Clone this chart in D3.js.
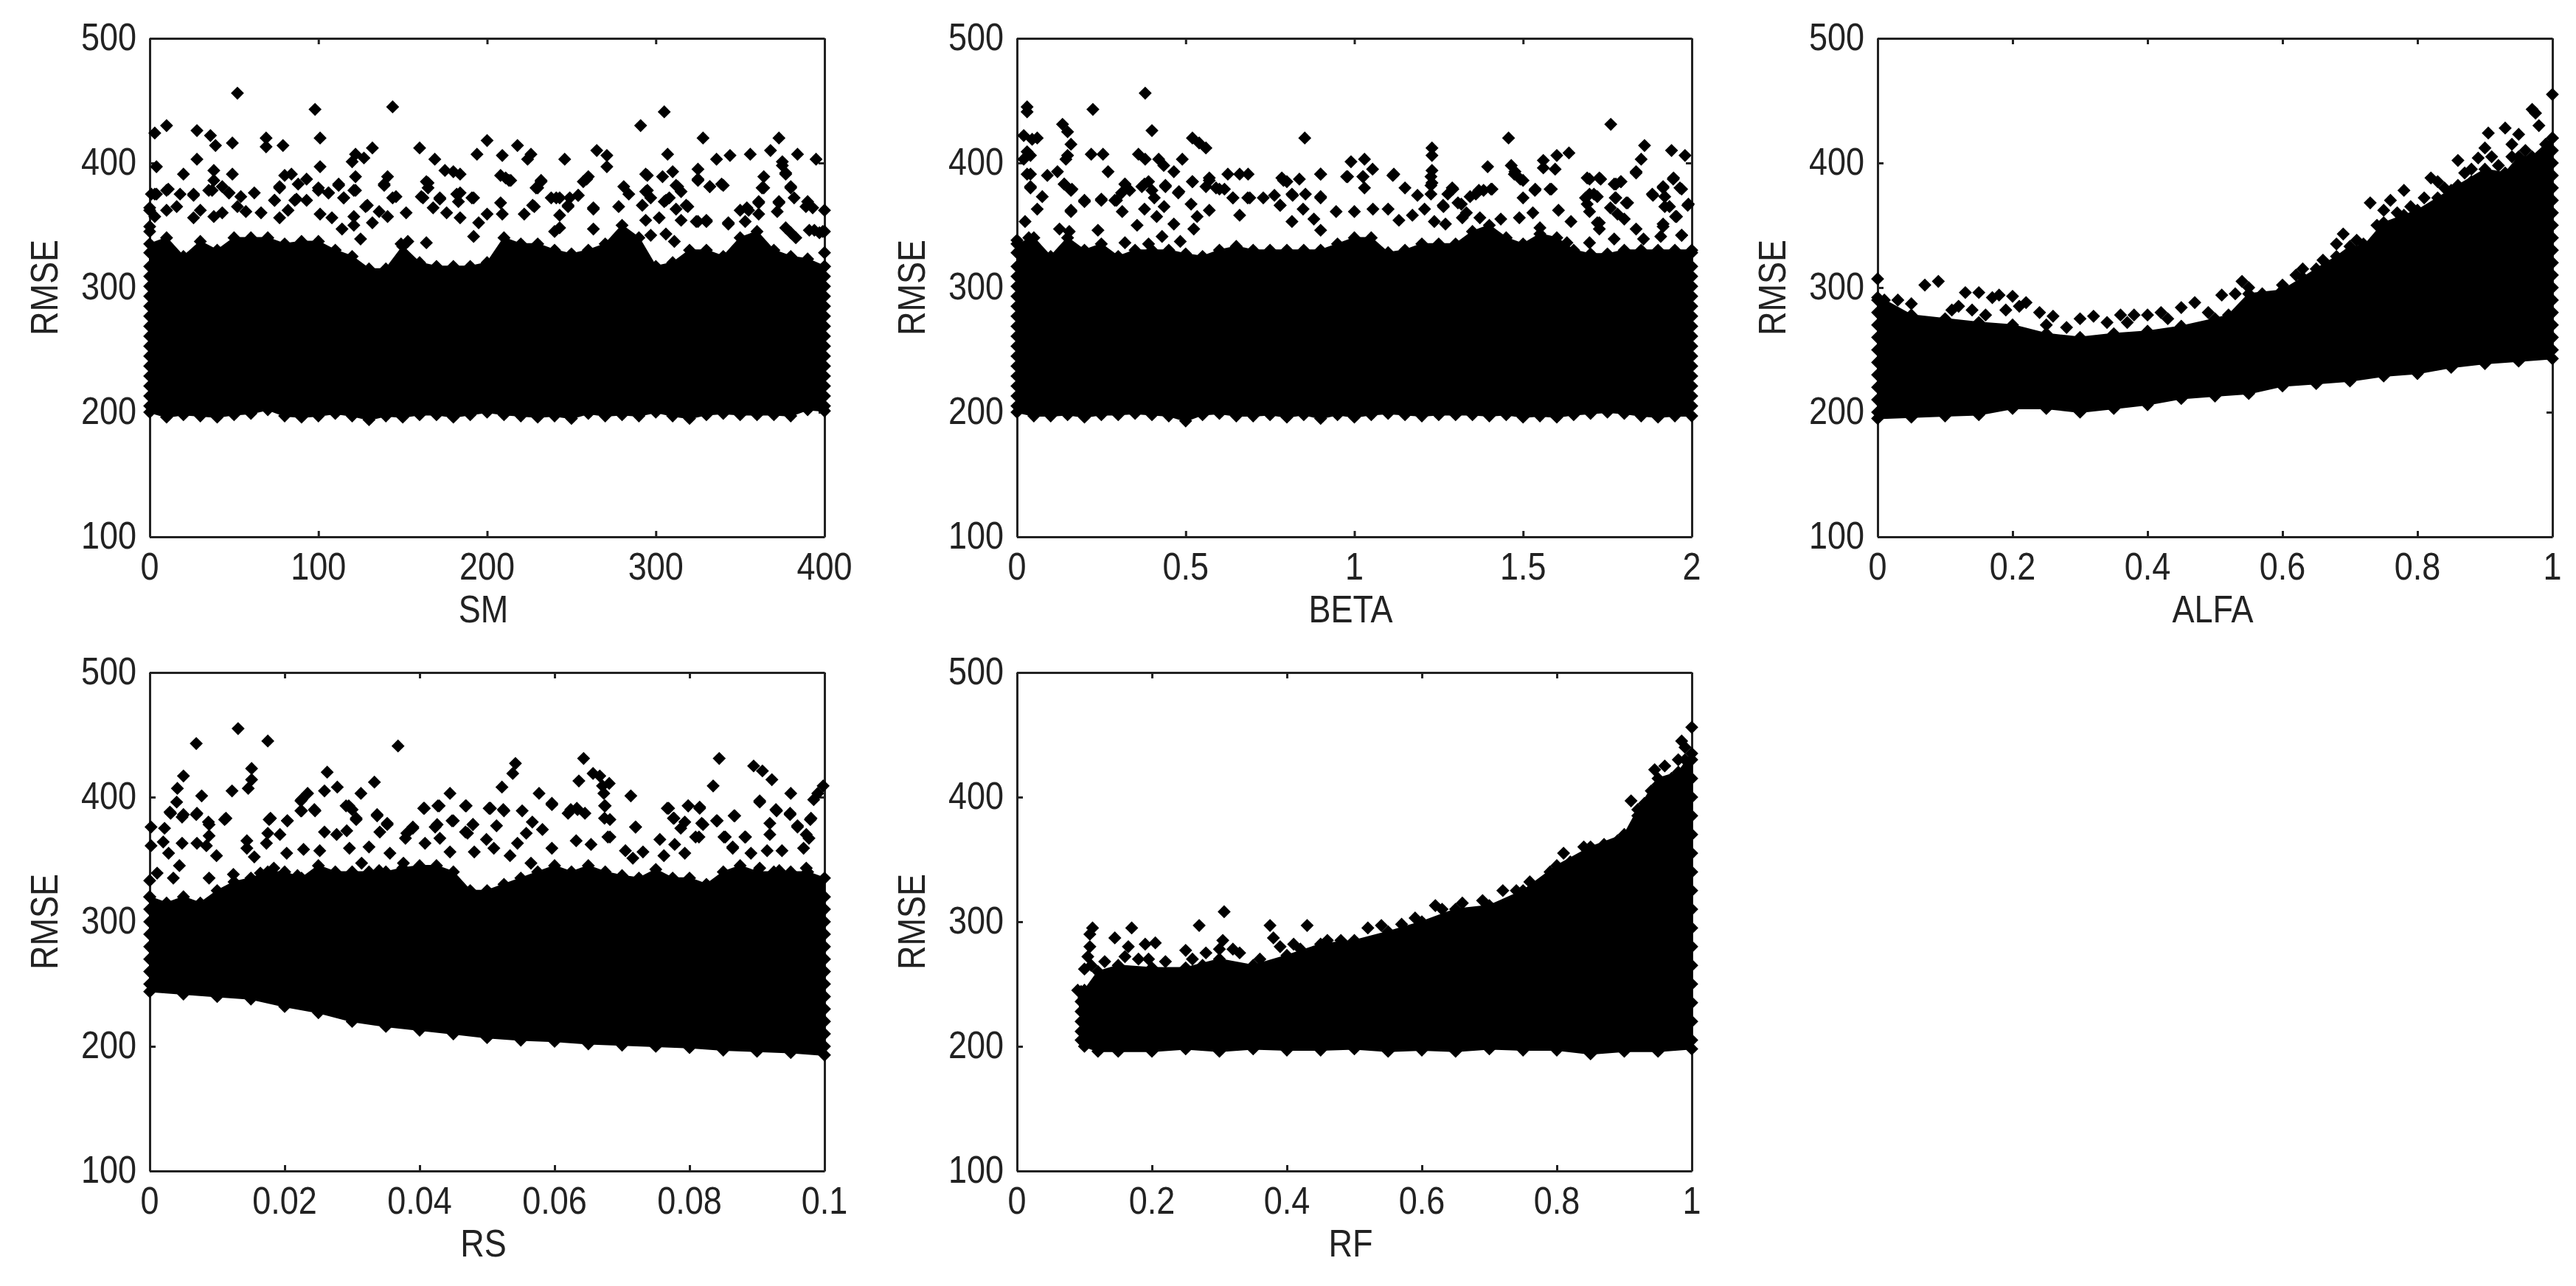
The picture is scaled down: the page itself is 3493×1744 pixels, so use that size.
<!DOCTYPE html>
<html><head><meta charset="utf-8">
<script src="https://cdn.jsdelivr.net/npm/d3@7"></script>
<style>html,body{margin:0;background:#fff}svg{display:block;filter:blur(0.7px)}text{font-family:"Liberation Sans",Arial,sans-serif;fill:#222}</style>
</head><body><script>
const rmseTicks=[100,200,300,400,500];
const smTicks=[0,100,200,300,400], betaTicks=[0,0.5,1,1.5,2], alfaTicks=[0,0.2,0.4,0.6,0.8,1], rsTicks=[0,0.02,0.04,0.06,0.08,0.1], rfTicks=[0,0.2,0.4,0.6,0.8,1];

const smPoints=[[52,456],[98,443],[144,445],[305,441],[291,430],[10,430],[3,424],[28,426],[36,422],[39,414],[49,416],[69,420],[69,413],[79,414],[101,420],[132,412],[122,407],[120,401],[127,404],[160,412],[169,403],[200,418],[194,407],[209,406],[218,414],[226,407],[224,403],[246,403],[265,410],[271,406],[271,397],[307,407],[328,420],[336,403],[344,406],[356,407],[368,410],[373,420],[384,407],[395,403],[375,401],[4,397],[28,403],[101,397],[325,395],[20,391],[38,394],[38,386],[49,391],[43,381],[47,376],[35,378],[1,375],[4,375],[10,378],[26,374],[62,376],[84,391],[80,390],[93,387],[77,380],[74,370],[87,371],[100,380],[106,376],[112,382],[115,372],[122,389],[121,378],[141,389],[139,382],[144,372],[128,365],[164,385],[165,380],[175,394],[180,393],[184,391],[172,372],[182,375],[192,372],[162,372],[208,390],[213,386],[208,368],[232,386],[230,380],[241,372],[249,372],[228,365],[254,374],[260,389],[257,385],[248,365],[263,363],[281,381],[295,390],[304,389],[310,393],[313,381],[295,378],[306,370],[319,365],[325,386],[332,381],[340,382],[364,389],[363,380],[375,398],[377,391],[380,380],[373,368],[382,372],[389,365],[361,368],[355,362],[397,344],[391,346],[343,352],[325,353],[330,354]];
const smDense=[[3,375],[11,379],[18,375],[26,375],[16,365],[10,362],[30,362],[26,356],[38,357],[43,360],[52,365],[57,361],[66,360],[54,373],[47,376],[37,378],[74,370],[77,381],[86,370],[93,370],[88,383],[82,362],[77,356],[100,378],[106,376],[112,383],[115,372],[122,378],[129,366],[136,361],[121,357],[121,350],[132,352],[141,357],[152,360],[146,373],[161,373],[172,371],[168,364],[184,376],[191,372],[183,369],[176,360],[184,356],[200,359],[195,352],[165,384],[139,383],[0,349],[3,357],[192,341],[164,336],[149,335],[153,337],[108,356],[101,359],[114,347],[125,339],[0,364],[211,388],[214,386],[232,385],[229,380],[259,387],[254,374],[238,372],[243,372],[248,366],[227,366],[209,359],[263,364],[243,358],[222,359],[263,347],[243,348],[240,345],[284,375],[294,377],[297,372],[292,366],[305,369],[308,372],[312,382],[315,377],[318,366],[312,363],[302,356],[315,354],[324,353],[330,353],[343,351],[294,354],[294,391],[325,387],[332,381],[339,383],[364,380],[380,381],[377,392],[361,369],[373,369],[372,361],[361,359],[354,364],[350,362],[390,369],[393,364],[377,348],[383,340],[380,344],[394,346],[399,345],[306,343],[311,337],[297,342],[353,353],[278,365]];
const smUpper=[[0,335],[10,340],[20,325],[30,337],[40,330],[50,340],[60,340],[70,340],[80,335],[90,337],[100,337],[110,330],[120,325],[130,315],[140,315],[150,333],[160,320],[170,317],[180,317],[190,317],[200,320],[210,340],[220,335],[230,335],[240,330],[250,327],[260,330],[270,335],[280,350],[290,340],[300,317],[310,320],[320,330],[330,330],[340,325],[350,340],[360,345],[370,330],[380,325],[390,323],[400,317]];
const smLower=[[0,200],[10,196],[20,198],[30,197],[40,196],[50,198],[60,199],[70,202],[80,197],[90,196],[100,197],[110,199],[120,197],[130,194],[140,197],[150,196],[160,198],[170,198],[180,196],[190,198],[200,200],[210,198],[220,197],[230,196],[240,197],[250,195],[260,199],[270,197],[280,198],[290,197],[300,200],[310,197],[320,195],[330,198],[340,199],[350,198],[360,198],[370,198],[380,197],[390,202],[400,201]];
const smEdge=[205,213,221,229,237,245,253,261,269,277,285,293,301,309,317,328,345,362];

const betaPoints=[[0.38,456],[0.03,445],[0.03,441],[0.225,443],[0.135,431],[0.15,425],[0.40,426],[0.02,422],[0.06,420],[0.045,419],[0.853,420],[0.52,420],[0.54,416],[0.56,412],[0.16,415],[0.15,406],[0.145,403],[0.22,407],[0.255,407],[0.03,409],[0.02,403],[0.04,406],[0.36,407],[0.38,403],[0.42,403],[0.435,398],[0.49,403],[0.465,393],[0.27,393],[0.04,391],[0.09,390],[0.12,393],[0.14,383],[0.16,378],[0.04,380],[1.76,431],[1.457,420],[1.23,412],[1.23,406],[1.86,414],[1.85,403],[1.835,393],[1.94,410],[1.98,406],[1.636,408],[1.6,406],[1.56,402],[1.56,396],[1.595,395],[0.99,401],[1.03,403],[1.054,395],[0.977,389],[1.025,389],[0.90,391],[0.90,372],[1.114,390],[0.625,391],[0.66,391],[0.685,391],[0.785,388],[0.80,385],[0.837,387],[0.817,374],[0.78,366],[0.64,372],[0.69,372],[0.73,372],[0.763,374],[0.59,380],[0.615,379],[0.57,388],[0.52,385],[0.478,376],[0.44,381],[0.40,378],[0.39,385],[0.32,383],[0.31,376],[0.29,370],[0.37,381],[0.25,371],[0.2,370],[0.16,362],[1.23,394],[1.23,384],[1.29,380],[1.264,365],[1.317,367],[1.36,375],[1.395,397],[1.383,378],[1.408,379],[1.465,398],[1.476,393],[1.5,386],[1.535,378],[1.584,379],[1.69,388],[1.726,388],[1.685,372],[1.71,375],[1.72,352],[1.775,383],[1.79,385],[1.775,372],[1.81,368],[1.78,359],[1.885,374],[1.915,380],[1.946,388],[1.965,380],[1.955,357],[1.99,367],[1.92,365],[1.915,351],[1.97,342]];
const betaDense=[[0.03,391],[0.04,381],[0.075,373],[0.06,363],[0.14,383],[0.163,379],[0.2,369],[0.16,361],[0.25,370],[0.295,370],[0.32,383],[0.334,378],[0.378,383],[0.44,382],[0.48,377],[0.52,385],[0.57,386],[0.56,381],[0.6,379],[0.64,372],[0.684,372],[0.79,386],[0.815,375],[0.855,375],[0.9,373],[0.9,391],[0.98,389],[0.78,366],[0.516,367],[0.57,362],[0.407,372],[0.436,365],[0.378,363],[0.312,361],[0.356,350],[0.414,357],[0.465,351],[0.534,357],[0.66,358],[0.815,353],[0.848,363],[0.946,361],[1,361],[0.88,355],[0.9,346],[0.126,347],[0.155,345],[0.24,346],[0.32,336],[0.43,341],[0.39,335],[0.484,337],[0.524,347],[0.024,353],[0.035,340],[0,338],[1.026,389],[1.03,380],[1.117,391],[1.15,380],[1.187,374],[1.227,389],[1.227,382],[1.227,375],[1.292,379],[1.277,375],[1.263,366],[1.307,368],[1.343,373],[1.369,378],[1.405,379],[1.5,372],[1.536,379],[1.58,379],[1.492,387],[1.474,391],[1.697,387],[1.73,387],[1.77,383],[1.79,385],[1.883,375],[1.915,381],[1.945,387],[1.97,379],[1.92,373],[1.835,392],[1.697,375],[1.69,367],[1.72,373],[1.697,361],[1.773,372],[1.759,364],[1.806,368],[1.8,355],[1.726,352],[1.726,347],[1.835,347],[1.77,339],[1.857,339],[1.915,349],[1.97,342],[1.908,341],[1.934,365],[1.952,357],[1.988,366],[1.489,356],[1.529,360],[1.605,362],[1.642,353],[1.055,363],[1.1,363],[1.132,354],[1.172,358],[1.208,363],[1.237,353],[1.27,351],[1.32,356],[1.332,360],[1.372,356],[1.434,355],[1.55,348],[1.63,336],[1.697,336]];
const betaUpper=[[0,335],[0.05,340],[0.1,325],[0.15,340],[0.2,330],[0.25,335],[0.3,325],[0.35,330],[0.4,330],[0.45,330],[0.5,327],[0.55,325],[0.6,330],[0.65,333],[0.7,330],[0.75,330],[0.8,330],[0.85,330],[0.9,330],[0.95,335],[1,340],[1.05,340],[1.1,328],[1.15,330],[1.2,335],[1.25,335],[1.3,335],[1.35,345],[1.4,350],[1.45,340],[1.5,335],[1.55,343],[1.6,340],[1.65,330],[1.7,327],[1.75,327],[1.8,330],[1.85,330],[1.9,330],[1.95,330],[2,330]];
const betaLower=[[0,200],[0.05,197],[0.1,197],[0.15,198],[0.2,196],[0.25,198],[0.3,198],[0.35,199],[0.4,198],[0.45,197],[0.5,193],[0.55,198],[0.6,199],[0.65,197],[0.7,197],[0.75,198],[0.8,196],[0.85,198],[0.9,195],[0.95,198],[1,196],[1.05,198],[1.1,199],[1.15,198],[1.2,197],[1.25,198],[1.3,198],[1.35,198],[1.4,197],[1.45,198],[1.5,196],[1.55,197],[1.6,196],[1.65,198],[1.7,199],[1.75,200],[1.8,199],[1.85,197],[1.9,196],[1.95,197],[2,197]];
const betaEdge=[205,213,221,229,237,245,253,261,269,277,285,293,301,309,317,328];

const alfaPoints=[[0,307],[0.07,302],[0.09,305],[0.13,296],[0.15,296],[0.17,292],[0.18,294],[0.2,293],[0.22,288],[0.24,280],[0.26,277],[0.3,275],[0.32,277],[0.36,278],[0.38,278],[0.4,278],[0.42,280],[0.45,284],[0.47,288],[0.51,294],[0.54,305],[0.63,315],[0.69,343],[0.73,368],[0.75,362],[0.76,370],[0.78,378],[0.82,388],[0.83,385],[0.86,402],[0.88,395],[0.89,404],[0.9,412],[0.905,424],[0.93,428],[0.94,415],[0.95,423],[0.97,443],[0.975,440],[0.98,430],[1,455]];
const alfaDense=[[0.03,290],[0.05,287],[0.11,282],[0.12,285],[0.14,282],[0.16,278],[0.19,282],[0.21,285],[0.25,270],[0.28,268],[0.34,272],[0.37,272],[0.43,275],[0.49,280],[0.53,295],[0.55,300],[0.57,295],[0.6,302],[0.62,310],[0.66,322],[0.68,335],[0.71,338],[0.72,335],[0.74,350],[0.77,360],[0.79,365],[0.81,372],[0.84,380],[0.85,378],[0.87,392],[0.88,385],[0.91,405],[0.92,398],[0.94,405],[0.96,410],[0.99,415]];
const alfaUpper=[[0,292],[0.01,290],[0.05,278],[0.1,275],[0.15,272],[0.2,270],[0.25,263],[0.3,260],[0.35,263],[0.4,265],[0.45,269],[0.5,275],[0.52,278],[0.55,295],[0.6,298],[0.63,308],[0.65,315],[0.68,325],[0.7,333],[0.72,333],[0.75,352],[0.78,358],[0.8,362],[0.83,372],[0.86,382],[0.9,395],[0.93,392],[0.95,405],[0.97,405],[1,420]];
const alfaLower=[[0,195],[0.05,196],[0.1,197],[0.15,198],[0.2,203],[0.25,203],[0.3,200],[0.35,203],[0.4,206],[0.45,211],[0.5,213],[0.55,215],[0.6,221],[0.65,223],[0.7,225],[0.75,229],[0.8,231],[0.85,236],[0.9,239],[0.95,241],[1,243]];
const alfaLeftEdge=[200,210,220,230,240,250,260,270,280,290], alfaRightEdge=[250,260,270,280,290,300,310,320,330,340,350,360,370,380,390,400,410,420];

const rsPoints=[[0.0131,455],[0.0069,443],[0.0175,445],[0.0368,441],[0.0643,431],[0.0844,431],[0.0895,425],[0.0908,421],[0.0922,414],[0.0542,427],[0.0538,419],[0.0522,408],[0.0636,413],[0.0657,419],[0.0667,417],[0.0681,411],[0.0671,409],[0.0673,403],[0.0713,401],[0.0835,409],[0.095,403],[0.099,403],[0.0998,409],[0.0904,396],[0.0263,420],[0.0151,423],[0.0151,414],[0.0146,407],[0.0122,405],[0.005,417],[0.0041,407],[0.0077,401],[0.0259,405],[0.0278,408],[0.0313,403],[0.0333,412],[0.0234,403],[0.0224,397],[0.0445,403],[0.0427,393],[0.0406,391],[0.0469,393],[0.0504,391],[0.0524,390],[0.0577,403],[0.0596,394],[0.0624,390],[0.0634,390],[0.003,388],[0.005,386],[0.0069,386],[0.0087,380],[0.0111,382],[0.0177,382],[0.0204,381],[0.0224,389],[0.0244,390],[0.0291,393],[0.03,390],[0.0306,382],[0.0337,386],[0.0352,378],[0.0381,371],[0.039,376],[0.0426,378],[0.045,381],[0.0479,378],[0.0471,371],[0.0682,382],[0.0675,393],[0.0679,368],[0.072,376],[0.0769,391],[0.0777,383],[0.0798,393],[0.0815,392],[0.0793,380],[0.0814,368],[0.082,378],[0.0841,381],[0.0867,385],[0.0851,368],[0.0864,360],[0.0883,368],[0.0928,390],[0.0949,386],[0.096,376],[0.0979,382],[0.0973,370]];
const rsDense=[[0.004,396],[0.0031,387],[0.0048,384],[0.007,387],[0.0113,383],[0.0088,378],[0.0002,376],[0.0022,375],[0.0179,383],[0.0204,381],[0.0225,389],[0.0245,389],[0.0225,398],[0.0295,393],[0.0306,383],[0.0337,385],[0.0352,379],[0.0341,372],[0.0259,372],[0.0277,370],[0.0292,373],[0.0407,391],[0.0429,393],[0.0468,393],[0.0503,391],[0.0448,381],[0.039,375],[0.0423,376],[0.0479,378],[0.0468,372],[0.0499,366],[0.0379,367],[0.0408,363],[0.043,367],[0.0356,355],[0.0325,360],[0.0296,359],[0.0193,370],[0.0175,371],[0.0173,363],[0.0144,365],[0.0144,359],[0.0203,355],[0.0155,352],[0.0088,369],[0.0048,363],[0.002,364],[0.0028,355],[0.0002,361],[0.007,363],[0.0099,353],[0.0084,361],[0.0044,345],[0.0011,339],[0,333],[0.0088,335],[0.0035,335],[0.0228,358],[0.0252,357],[0.0445,356],[0.0481,356],[0.0376,347],[0.0314,347],[0.034,341],[0.0124,338],[0.0164,339],[0.0184,343],[0.0219,337],[0.0505,391],[0.0525,389],[0.0514,377],[0.0552,389],[0.0596,395],[0.0567,380],[0.0582,374],[0.0558,371],[0.0545,363],[0.062,387],[0.0633,391],[0.0645,387],[0.0674,393],[0.0674,383],[0.072,376],[0.0682,368],[0.0632,365],[0.0654,362],[0.0596,359],[0.051,359],[0.0534,353],[0.0565,347],[0.0767,391],[0.0776,383],[0.0798,393],[0.0815,391],[0.0787,375],[0.0818,379],[0.0809,368],[0.084,381],[0.0866,385],[0.0904,397],[0.0882,368],[0.0853,368],[0.0864,359],[0.0929,389],[0.0949,387],[0.0919,379],[0.0919,370],[0.098,383],[0.0984,398],[0.096,377],[0.0977,367],[0.0756,366],[0.0778,362],[0.0762,353],[0.0793,355],[0.0705,357],[0.0731,356],[0.0716,351],[0.0937,357],[0.0891,355],[0.0915,357],[0.0973,343],[0.0969,359],[0.0904,343],[0.0933,341]];
const rsUpper=[[0,320],[0.0025,315],[0.005,320],[0.0075,315],[0.01,325],[0.0125,332],[0.015,335],[0.0175,340],[0.02,340],[0.0225,335],[0.025,345],[0.0275,340],[0.03,340],[0.0325,340],[0.035,340],[0.0375,343],[0.04,345],[0.0425,345],[0.045,340],[0.0475,325],[0.05,325],[0.0525,330],[0.055,335],[0.0575,340],[0.06,345],[0.0625,340],[0.065,345],[0.0675,340],[0.07,337],[0.0725,335],[0.075,342],[0.0775,335],[0.08,335],[0.0825,330],[0.085,340],[0.0875,345],[0.09,340],[0.0925,340],[0.095,340],[0.0975,340],[0.1,335]];
const rsLower=[[0,244],[0.005,242],[0.01,240],[0.015,238],[0.02,232],[0.025,227],[0.03,220],[0.035,216],[0.04,213],[0.045,210],[0.05,207],[0.055,205],[0.06,204],[0.065,202],[0.07,201],[0.075,200],[0.08,199],[0.085,197],[0.09,196],[0.095,195],[0.1,193]];
const rsLeftEdge=[250,260,270,280,290,300,310,320], rsRightEdge=[200,210,220,230,240,250,260,270,280,290,300,310,320];

const rfPoints=[[0.112,295],[0.108,290],[0.108,280],[0.10,262],[0.105,272],[0.145,287],[0.17,295],[0.165,280],[0.19,282],[0.205,283],[0.195,270],[0.25,277],[0.27,297],[0.307,308],[0.305,285],[0.275,265],[0.32,278],[0.375,297],[0.38,287],[0.43,297],[0.41,282],[0.62,313],[0.81,355],[0.91,397],[0.945,422],[0.96,425],[0.985,445],[0.99,440],[1,456],[0.92,385],[0.94,405]];
const rfDense=[[0.11,265],[0.13,268],[0.16,272],[0.18,270],[0.22,268],[0.26,270],[0.28,275],[0.3,278],[0.33,275],[0.36,270],[0.39,280],[0.42,278],[0.46,285],[0.48,285],[0.52,295],[0.54,297],[0.57,298],[0.59,303],[0.63,310],[0.66,315],[0.69,317],[0.72,325],[0.74,325],[0.76,332],[0.79,340],[0.82,348],[0.84,360],[0.87,362],[0.89,365],[0.93,395],[0.95,410],[0.97,415],[0.98,430],[0.99,430]];
const rfUpper=[[0.09,245],[0.1,245],[0.12,260],[0.15,265],[0.2,263],[0.25,263],[0.3,270],[0.35,265],[0.4,273],[0.45,282],[0.5,285],[0.55,292],[0.6,300],[0.65,310],[0.7,313],[0.75,325],[0.8,345],[0.85,360],[0.9,370],[0.92,390],[0.95,415],[0.98,420],[1,435]];
const rfLower=[[0.1,200],[0.12,196],[0.15,196],[0.2,196],[0.25,198],[0.3,196],[0.35,198],[0.4,197],[0.45,197],[0.5,198],[0.55,196],[0.6,197],[0.65,196],[0.7,198],[0.75,197],[0.8,197],[0.85,194],[0.9,196],[0.95,196],[1,198]];
const rfLeftEdge=[205,212,220,228,236,244], rfRightEdge=[205,220,235,250,265,280,295,310,325,340,355,370,385,400,415,430];

const panels=[
 {name:"SM",domain:[0,400],ticks:smTicks,pts:smPoints.concat(smDense),up:smUpper,lo:smLower,le:smEdge,re:smEdge,L:203,T:52,lx:-5},
 {name:"BETA",domain:[0,2],ticks:betaTicks,pts:betaPoints.concat(betaDense),up:betaUpper,lo:betaLower,le:betaEdge,re:betaEdge,L:1379,T:52,lx:-5},
 {name:"ALFA",domain:[0,1],ticks:alfaTicks,pts:alfaPoints.concat(alfaDense),up:alfaUpper,lo:alfaLower,le:alfaLeftEdge,re:alfaRightEdge,L:2546,T:52,lx:-3},
 {name:"RS",domain:[0,0.1],ticks:rsTicks,pts:rsPoints.concat(rsDense),up:rsUpper,lo:rsLower,le:rsLeftEdge,re:rsRightEdge,L:203,T:912,lx:-5},
 {name:"RF",domain:[0,1],ticks:rfTicks,pts:rfPoints.concat(rfDense),up:rfUpper,lo:rfLower,le:rfLeftEdge,re:rfRightEdge,L:1379,T:912,lx:-5,start:0.095}
];
const W=915,H=676,FS=45,SY=1.15,INK="#222";
const svg=d3.select("body").append("svg").attr("width",3493).attr("height",1744);
const diamond=d3.symbol().type(d3.symbolDiamond2).size(200)();
function label(g,x,y,str,rot){
  g.append("text").attr("transform",`translate(${x},${y}) rotate(${rot||0}) scale(1,${SY})`)
   .attr("text-anchor","middle").attr("dominant-baseline","central").attr("font-size",FS).text(str);
}
panels.forEach(p=>{
  const g=svg.append("g").attr("transform",`translate(${p.L},${p.T})`);
  const x=d3.scaleLinear().domain(p.domain).range([0,W]);
  const y=d3.scaleLinear().domain([100,500]).range([H,0]);
  const styleAxis=a=>{a.selectAll("path,line").attr("stroke",INK).attr("stroke-width",3);a.selectAll("text").remove();};
  g.append("g").attr("transform",`translate(0,${H})`).call(d3.axisBottom(x).tickValues(p.ticks).tickSize(-8).tickSizeOuter(0)).call(styleAxis);
  g.append("g").call(d3.axisTop(x).tickValues(p.ticks).tickSize(-8).tickSizeOuter(0)).call(styleAxis);
  g.append("g").call(d3.axisLeft(y).tickValues(rmseTicks).tickSize(-8).tickSizeOuter(0)).call(styleAxis);
  g.append("g").attr("transform",`translate(${W},0)`).call(d3.axisRight(y).tickValues(rmseTicks).tickSize(-8).tickSizeOuter(0)).call(styleAxis);
  p.ticks.forEach(t=>label(g,x(t),H+40,String(t)));
  rmseTicks.forEach(t=>g.append("text").attr("transform",`translate(-18,${y(t)-2}) scale(1,${SY})`).attr("text-anchor","end").attr("dominant-baseline","central").attr("font-size",FS).text(t));
  label(g,W/2+p.lx,H+98,p.name);
  label(g,-143,H/2,"RMSE",-90);
  const line=d3.line().x(d=>x(d[0])).y(d=>y(d[1]));
  g.append("path").attr("d",line(p.up.concat(p.lo.slice().reverse()))+"Z").attr("fill","#000").attr("stroke","#000").attr("stroke-width",2);
  const x0=p.start!==undefined?p.start:p.domain[0];
  const marks=[...p.pts,...p.up,...p.lo,...p.le.map(v=>[x0,v]),...p.re.map(v=>[p.domain[1],v])];
  g.append("g").selectAll("path").data(marks).join("path")
    .attr("d",diamond).attr("fill","#000")
    .attr("transform",d=>`translate(${x(d[0])},${y(d[1])})`);
});
</script></body></html>
